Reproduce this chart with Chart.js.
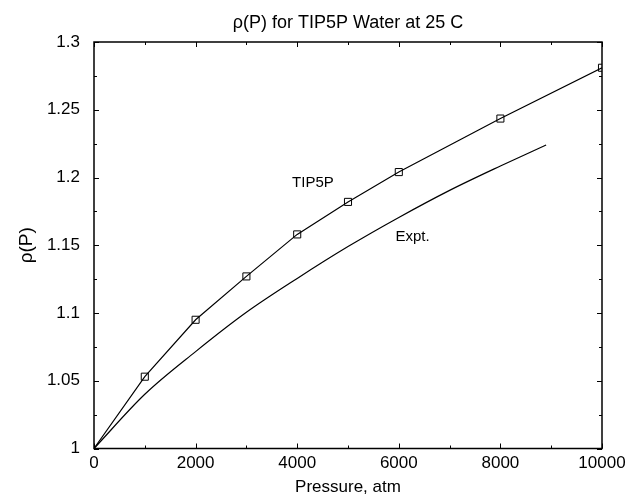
<!DOCTYPE html>
<html>
<head>
<meta charset="utf-8">
<script src="https://cdn.jsdelivr.net/npm/chart.js@4/dist/chart.umd.min.js"></script>
<style>
  html, body { margin: 0; padding: 0; background: #fff; }
</style>
</head>
<body>
<canvas id="rhoChart" width="626" height="495"></canvas>
<script>
// TIP5P simulation points (atm, g/cm^3)
var tipPressure = [0, 1000, 2000, 3000, 4000, 5000, 6000, 8000, 10000];
var tipDensity = [1.0, 1.053, 1.095, 1.127, 1.158, 1.182, 1.204, 1.2435, 1.281];

// experimental curve
var exptPressure = [0, 1000, 2000, 3000, 4000, 5000, 6000, 7000, 8000, 8900];
var exptDensity = [1.0, 1.040, 1.0715, 1.1005, 1.1255, 1.149, 1.1705, 1.1905, 1.2085, 1.224];

var xTicks = [0, 2000, 4000, 6000, 8000, 10000];
var yTicks = [1, 1.05, 1.1, 1.15, 1.2, 1.25, 1.3];

var FONT = "'Liberation Sans', Arial, Helvetica, sans-serif";

function pairs(xs, ys) {
  return xs.map(function (x, i) { return { x: x, y: ys[i] }; });
}

// title, inward ticks on all four sides, frame and the curve labels
var framePlugin = {
  id: "frame",
  afterDraw: function (chart) {
    var ctx = chart.ctx;
    var a = chart.chartArea;
    var xs = chart.scales.x, ys = chart.scales.y;
    ctx.save();
    ctx.strokeStyle = "#000";
    ctx.lineWidth = 1;
    ctx.beginPath();
    // x ticks: major every 2000, minor every 1000
    for (var v = 0; v <= 10000; v += 1000) {
      var px = Math.round(xs.getPixelForValue(v)) + 0.5;
      var len = (v % 2000 === 0) ? 5 : 3;
      ctx.moveTo(px, a.bottom); ctx.lineTo(px, a.bottom - len);
      ctx.moveTo(px, a.top); ctx.lineTo(px, a.top + len);
    }
    // y ticks: major every 0.05, minor every 0.025
    for (var k = 0; k <= 12; k++) {
      var val = 1 + k * 0.025;
      var py = Math.round(ys.getPixelForValue(val)) + 0.5;
      var l2 = (k % 2 === 0) ? 5 : 3;
      ctx.moveTo(a.left, py); ctx.lineTo(a.left + l2, py);
      ctx.moveTo(a.right, py); ctx.lineTo(a.right - l2, py);
    }
    ctx.stroke();
    ctx.lineWidth = 1.5;
    ctx.strokeRect(a.left, a.top, a.right - a.left, a.bottom - a.top);

    ctx.fillStyle = "#000";
    ctx.textAlign = "center";
    ctx.textBaseline = "alphabetic";
    ctx.font = "18px " + FONT;
    ctx.fillText("\u03c1(P) for TIP5P Water at 25 C", (a.left + a.right) / 2, 28);

    ctx.font = "15px " + FONT;
    ctx.textBaseline = "middle";
    ctx.fillText("TIP5P", xs.getPixelForValue(4310), ys.getPixelForValue(1.196));
    ctx.fillText("Expt.", xs.getPixelForValue(6270), ys.getPixelForValue(1.156));
    ctx.restore();
  }
};

var ctx = document.getElementById("rhoChart").getContext("2d");

var rhoChart = new Chart(ctx, {
  type: "line",
  data: {
    datasets: [
      {
        label: "TIP5P",
        data: pairs(tipPressure, tipDensity),
        borderColor: "#000",
        borderWidth: 1.2,
        backgroundColor: "rgba(0,0,0,0)",
        pointStyle: "rect",
        pointRadius: tipPressure.map(function (p) { return p === 0 ? 0 : 5; }),
        pointBorderColor: "#000",
        pointBorderWidth: 1,
        pointBackgroundColor: "rgba(255,255,255,0)",
        tension: 0,
        fill: false
      },
      {
        label: "Expt.",
        data: pairs(exptPressure, exptDensity),
        borderColor: "#000",
        borderWidth: 1.2,
        pointRadius: 0,
        cubicInterpolationMode: "monotone",
        fill: false
      }
    ]
  },
  options: {
    responsive: false,
    animation: false,
    events: [],
    layout: {
      padding: { left: 0, right: 0, top: 42, bottom: 0 }
    },
    plugins: {
      legend: { display: false },
      tooltip: { enabled: false },
      title: { display: false }
    },
    scales: {
      x: {
        type: "linear",
        min: 0,
        max: 10000,
        afterFit: function (s) {
          s.height = 46.5;
          s.paddingLeft = 0;
          s.paddingRight = 24;
        },
        afterBuildTicks: function (s) {
          s.ticks = xTicks.map(function (v) { return { value: v }; });
        },
        grid: { display: false, drawTicks: false },
        border: { display: false },
        ticks: {
          padding: 5,
          color: "#000",
          maxRotation: 0,
          font: { family: FONT, size: 17 },
          callback: function (v) { return String(v); }
        },
        title: {
          display: true,
          text: "Pressure, atm",
          color: "#000",
          font: { family: FONT, size: 17 },
          padding: { top: 0, bottom: -3 }
        }
      },
      y: {
        type: "linear",
        min: 1,
        max: 1.3,
        afterFit: function (s) { s.width = 94; },
        afterBuildTicks: function (s) {
          s.ticks = yTicks.map(function (v) { return { value: v }; });
        },
        grid: { display: false, drawTicks: false },
        border: { display: false },
        ticks: {
          padding: 14,
          color: "#000",
          font: { family: FONT, size: 17 },
          callback: function (v) { return String(+v.toFixed(2)); }
        },
        title: {
          display: true,
          text: "\u03c1(P)",
          color: "#000",
          font: { family: FONT, size: 19 },
          padding: { top: 15, bottom: 0 }
        }
      }
    }
  },
  plugins: [framePlugin]
});
</script>
</body>
</html>
